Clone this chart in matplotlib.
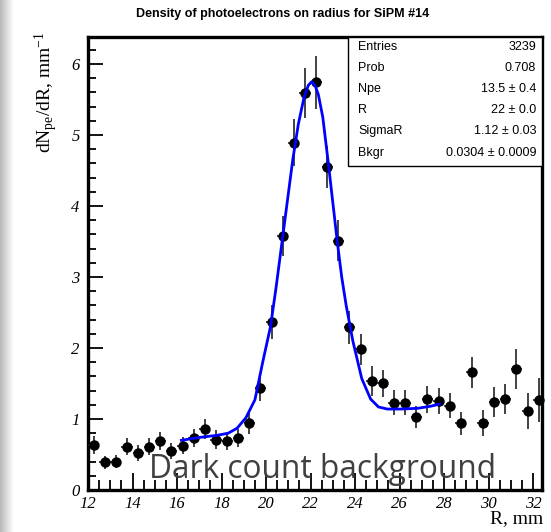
import numpy as np
import matplotlib
matplotlib.use("Agg")
import matplotlib.pyplot as plt
from matplotlib.patches import Rectangle
from matplotlib.ticker import MultipleLocator

# ---- data ----
r_bins = [12.25, 12.75, 13.25, 13.75, 14.25, 14.75, 15.25, 15.75, 16.25, 16.75,
          17.25, 17.75, 18.25, 18.75, 19.25, 19.75, 20.25, 20.75, 21.25, 21.75,
          22.25, 22.75, 23.25, 23.75, 24.25, 24.75, 25.25, 25.75, 26.25, 26.75,
          27.25, 27.75, 28.25, 28.75, 29.25, 29.75, 30.25, 30.75, 31.25, 31.75, 32.25]
density = [0.63, 0.39, 0.40, 0.61, 0.52, 0.61, 0.69, 0.55, 0.62, 0.73,
           0.86, 0.71, 0.69, 0.73, 0.94, 1.43, 2.36, 3.58, 4.89, 5.59,
           5.74, 4.55, 3.51, 2.29, 1.98, 1.54, 1.50, 1.23, 1.23, 1.03,
           1.28, 1.25, 1.19, 0.94, 1.66, 0.94, 1.24, 1.28, 1.70, 1.11, 1.27]
density_err = [0.13, 0.09, 0.09, 0.12, 0.11, 0.12, 0.13, 0.11, 0.12, 0.13,
               0.14, 0.13, 0.13, 0.13, 0.15, 0.18, 0.24, 0.28, 0.33, 0.35,
               0.37, 0.30, 0.29, 0.23, 0.22, 0.21, 0.19, 0.18, 0.18, 0.16,
               0.19, 0.18, 0.18, 0.16, 0.22, 0.18, 0.21, 0.21, 0.28, 0.25, 0.31]
bin_half_width = 0.25

fit_r = [16.2, 17.0, 17.8, 18.3, 18.7, 19.1, 19.5, 19.85, 20.2, 20.45, 20.7, 20.95,
         21.2, 21.45, 21.7, 21.9, 22.05, 22.2, 22.35, 22.55, 22.8, 23.0, 23.2, 23.4,
         23.6, 23.9, 24.3, 24.7, 25.05, 25.45, 26.0, 26.8, 27.4, 27.8]
fit_y = [0.70, 0.74, 0.77, 0.80, 0.87, 1.02, 1.27, 1.80, 2.30, 2.85, 3.45, 4.05,
         4.65, 5.15, 5.52, 5.70, 5.75, 5.70, 5.57, 5.25, 4.60, 4.05, 3.50, 3.00,
         2.60, 2.10, 1.57, 1.28, 1.17, 1.14, 1.14, 1.15, 1.18, 1.21]

stat_names = ["Entries", "Prob", "Npe", "R", "SigmaR", "Bkgr"]
stat_values = ["3239", "0.708", "13.5 \u00b1 0.4", "22 \u00b1 0.0", "1.12 \u00b1 0.03",
               "0.0304 \u00b1 0.0009"]

title = "Density of photoelectrons on radius for SiPM #14"
overlay_text = "Dark count background"

# ---- figure ----
W, H = 551, 532
fig = plt.figure(figsize=(W / 100, H / 100), dpi=100)
fig.patch.set_facecolor("white")

plt.rcParams["mathtext.fontset"] = "custom"
plt.rcParams["mathtext.rm"] = "Liberation Serif"
plt.rcParams["mathtext.it"] = "Liberation Serif:italic"

# slide shadow at the left edge
gax = fig.add_axes([0, 0, 14 / W, 1])
grad = np.linspace(0.72, 1.0, 64).reshape(1, -1)
gax.imshow(grad, cmap="gray", vmin=0, vmax=1, aspect="auto", extent=[0, 1, 0, 1])
gax.axis("off")

left, right, top, bottom = 88, 542, 37, 490
ax = fig.add_axes([left / W, 1 - bottom / H, (right - left) / W, (bottom - top) / H])

ax.errorbar(r_bins, density, yerr=density_err, xerr=bin_half_width, fmt="o",
            color="black", ecolor="#222222", elinewidth=1.2, capsize=0,
            markersize=6.5, zorder=3, clip_on=False)
ax.plot(fit_r, fit_y, color="#0000ff", lw=2.0, zorder=4)

ax.set_xlim(12, 32.4)
ax.set_ylim(0, 6.38)
ax.xaxis.set_major_locator(MultipleLocator(2))
ax.xaxis.set_minor_locator(MultipleLocator(0.5))
ax.yaxis.set_major_locator(MultipleLocator(1))
ax.yaxis.set_minor_locator(MultipleLocator(0.2))
ax.tick_params(which="both", direction="in", top=False, right=False, width=1.3)
ax.tick_params(which="major", axis="x", length=12, pad=4)
ax.tick_params(which="minor", axis="x", length=7)
ax.tick_params(which="major", axis="y", length=11, pad=6)
ax.tick_params(which="minor", axis="y", length=6)
for lab in ax.get_xticklabels() + ax.get_yticklabels():
    lab.set_fontfamily("Liberation Serif")
    lab.set_fontstyle("italic")
    lab.set_fontsize(12)
for s in ax.spines.values():
    s.set_linewidth(2.4)

# statistics box
bx0 = (348 - left) / (right - left)
by0 = (bottom - 166) / (bottom - top)
ax.add_patch(Rectangle((bx0, by0), 1 - bx0, 1 - by0, transform=ax.transAxes,
                       facecolor="white", edgecolor="black", lw=1.0, zorder=6))
row_y = [47, 68, 89, 110, 131, 153]
for name, val, yy in zip(stat_names, stat_values, row_y):
    ya = (bottom - yy) / (bottom - top)
    ax.text((358 - left) / (right - left), ya, name, transform=ax.transAxes,
            ha="left", va="center", fontsize=9, family="Liberation Sans", zorder=7)
    ax.text((536 - left) / (right - left), ya, val, transform=ax.transAxes,
            ha="right", va="center", fontsize=9, family="Liberation Sans", zorder=7)

# titles and labels
fig.text(283 / W, 1 - 14 / H, title, ha="center", va="center", fontsize=9,
         fontweight="bold", family="Liberation Sans")
fig.text(46 / W, 1 - 32 / H, r"dN$_{\mathrm{pe}}$/dR, mm$^{-1}$", rotation=90,
         ha="center", va="top", fontsize=14, family="Liberation Serif")
fig.text(543 / W, 1 - 519 / H, "R, mm", ha="right", va="center", fontsize=14,
         family="Liberation Serif")

# overlay annotation
fig.text(149 / W, 1 - 469 / H, overlay_text, ha="left", va="center", fontsize=22.8,
         family="Open Sans", color="#404040", zorder=10)

fig.savefig("out.png", dpi=100)
